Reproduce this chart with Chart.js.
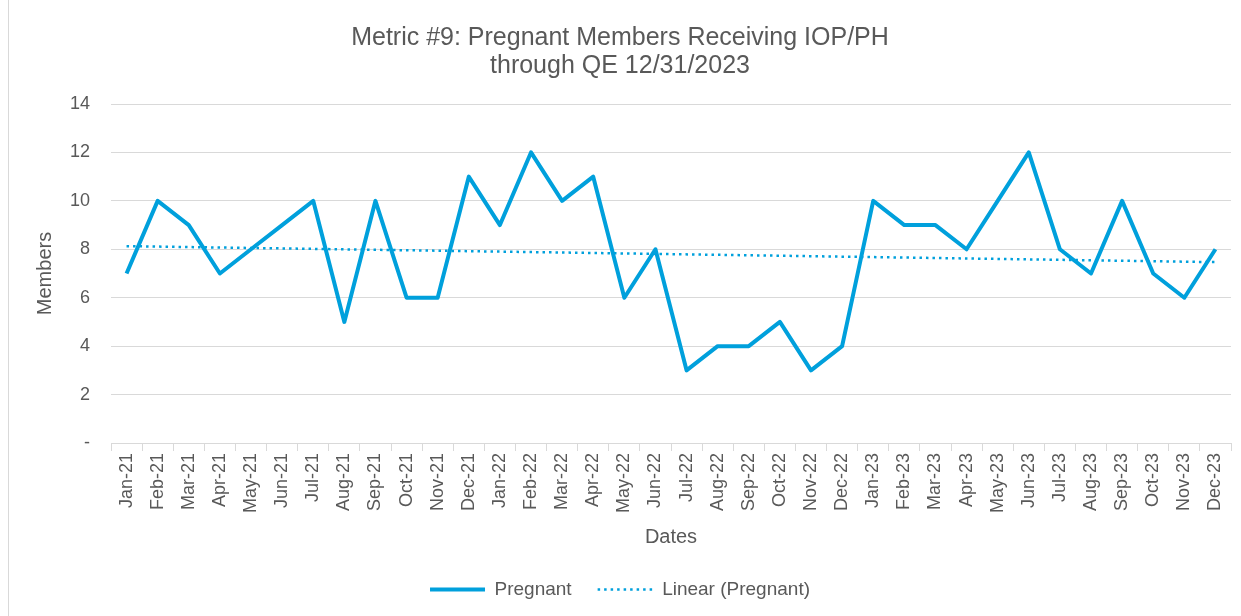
<!DOCTYPE html>
<html>
<head>
<meta charset="utf-8">
<script src="https://cdn.jsdelivr.net/npm/chart.js@4"></script>
<style>
  html, body { margin: 0; padding: 0; background: #fff; }
  #box { position: absolute; left: 8px; top: -1px; width: 1240px; height: 618px; border: 1px solid #d9d9d9; box-sizing: border-box; }
  #wrap { position: absolute; left: 0; top: 1px; width: 1232px; height: 616px; }
</style>
</head>
<body>
<div id="box"><div id="wrap"><canvas id="chart"></canvas></div></div>
<script>
// Metric #9 chart data
const months = [
    'Jan-21', 'Feb-21', 'Mar-21', 'Apr-21', 'May-21', 'Jun-21', 'Jul-21', 'Aug-21', 'Sep-21', 'Oct-21', 'Nov-21', 'Dec-21',
    'Jan-22', 'Feb-22', 'Mar-22', 'Apr-22', 'May-22', 'Jun-22', 'Jul-22', 'Aug-22', 'Sep-22', 'Oct-22', 'Nov-22', 'Dec-22',
    'Jan-23', 'Feb-23', 'Mar-23', 'Apr-23', 'May-23', 'Jun-23', 'Jul-23', 'Aug-23', 'Sep-23', 'Oct-23', 'Nov-23', 'Dec-23'
];
const pregnant = [
    7, 10, 9, 7, 8, 9, 10, 5, 10, 6, 6, 11,
    9, 12, 10, 11, 6, 8, 3, 4, 4, 5, 3, 4,
    10, 9, 9, 8, 10, 12, 8, 7, 10, 7, 6, 8
];
// trend line end values (Excel linear trendline)
const trendStart = 8.13;
const trendEnd = 7.47;
const yTicks = [0, 2, 4, 6, 8, 10, 12, 14];

const trend = months.map((m, i) => i === 0 ? trendStart : (i === months.length - 1 ? trendEnd : null));

const blue = '#00A0DC';
const grey = '#595959';
const font = 'Liberation Sans, Arial, sans-serif';

new Chart(document.getElementById('chart'), {
    type: 'line',
    data: {
        labels: months,
        datasets: [{
            label: 'Pregnant',
            data: pregnant,
            borderColor: blue,
            backgroundColor: blue,
            borderWidth: 4,
            pointRadius: 0,
            tension: 0,
            borderJoinStyle: 'round'
        }, {
            label: 'Linear (Pregnant)',
            data: trend,
            spanGaps: true,
            borderColor: blue,
            backgroundColor: blue,
            borderWidth: 2.5,
            borderDash: [2.5, 4],
            pointRadius: 0
        }]
    },
    options: {
        responsive: true,
        maintainAspectRatio: false,
        animation: false,
        layout: { padding: { left: 0, right: 10, top: 0, bottom: 8 } },
        plugins: {
            title: {
                display: true,
                text: ['Metric #9: Pregnant Members Receiving IOP/PH', 'through QE 12/31/2023'],
                color: grey,
                font: { family: font, size: 25, weight: 'normal', lineHeight: '28px' },
                padding: { top: 23, bottom: 24 }
            },
            legend: {
                position: 'bottom',
                labels: {
                    color: grey,
                    font: { family: font, size: 19 },
                    usePointStyle: true,
                    pointStyle: 'line',
                    pointStyleWidth: 55,
                    padding: 26,
                    // build legend items from the datasets so the line width and dash show
                    generateLabels: (chart) => chart.data.datasets.map((ds, i) => ({
                        text: ds.label,
                        fillStyle: ds.borderColor,
                        strokeStyle: ds.borderColor,
                        fontColor: grey,
                        lineWidth: ds.borderWidth,
                        lineDash: ds.borderDash || [],
                        lineCap: 'butt',
                        pointStyle: 'line',
                        hidden: false,
                        datasetIndex: i
                    }))
                }
            },
            tooltip: { enabled: false }
        },
        scales: {
            x: {
                offset: true,
                grid: {
                    offset: true,
                    drawOnChartArea: false,
                    drawTicks: true,
                    tickLength: 8,
                    color: '#d9d9d9'
                },
                border: { display: true, color: '#d9d9d9', width: 1 },
                ticks: {
                    color: grey,
                    font: { family: font, size: 18 },
                    minRotation: 90,
                    maxRotation: 90,
                    autoSkip: false,
                    padding: 2
                },
                title: {
                    display: true,
                    text: 'Dates',
                    color: grey,
                    font: { family: font, size: 20 },
                    padding: { top: 4, bottom: 5 }
                },
                afterFit: (scale) => { scale.height = 111; }
            },
            y: {
                min: 0,
                max: 14,
                afterBuildTicks: (scale) => { scale.ticks = yTicks.map(v => ({ value: v })); },
                grid: { color: '#d9d9d9', drawTicks: false },
                border: { display: false },
                ticks: {
                    color: grey,
                    font: { family: font, size: 18 },
                    padding: 21,
                    callback: (v) => v === 0 ? '-' : v
                },
                title: {
                    display: true,
                    text: 'Members',
                    color: grey,
                    font: { family: font, size: 20 },
                    padding: { top: 24, bottom: 0 }
                },
                afterFit: (scale) => { scale.width = 102; }
            }
        }
    }
});
</script>
</body>
</html>
